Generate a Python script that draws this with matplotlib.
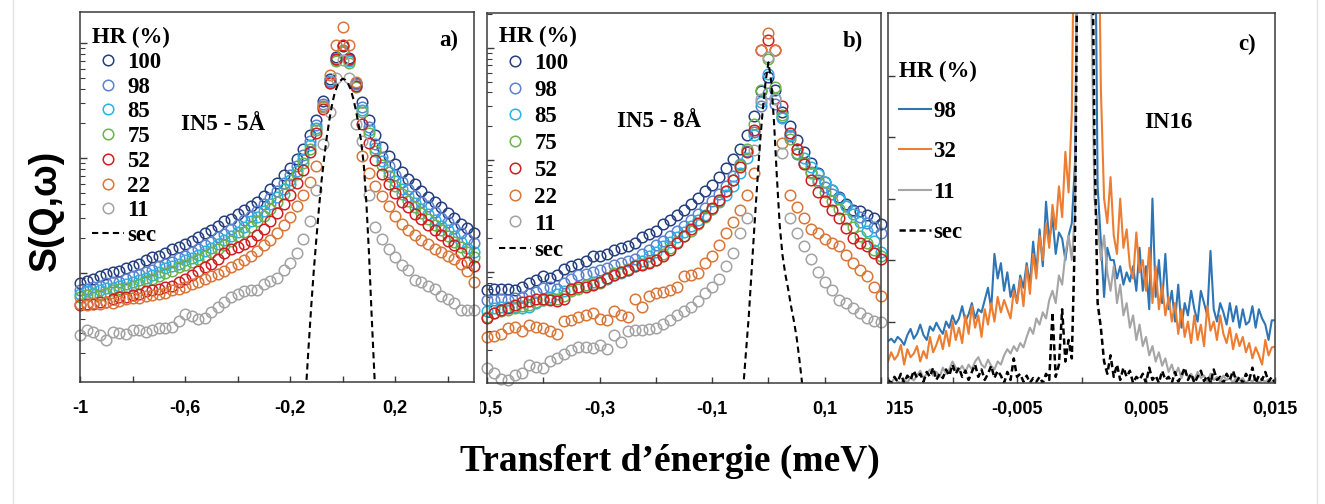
import matplotlib.pyplot as plt
import numpy as np
from matplotlib.ticker import FixedLocator, FixedFormatter, LogLocator, NullFormatter
from matplotlib.patches import Rectangle
from matplotlib.lines import Line2D

# ---------------------------------------------------------------
# data (panels a and b are log10 of S(Q,w), panel c is linear)
# ---------------------------------------------------------------
hr_ab = ['100', '98', '85', '75', '52', '22', '11']
hr_c = ['98', '32', '11']

# panel a : IN5 - 5 A, energy from -1 to 0.5 meV (61 channels)
e_a = np.linspace(-1.0, 0.5, 61)
log_a_100 = [-0.09, -0.07, -0.05, -0.03, -0.01, 0.01, 0.02, 0.04, 0.06, 0.08,
             0.11, 0.14, 0.15, 0.17, 0.21, 0.23, 0.25, 0.28, 0.31, 0.35,
             0.37, 0.41, 0.45, 0.47, 0.51, 0.55, 0.58, 0.62, 0.67, 0.73,
             0.78, 0.85, 0.91, 0.99, 1.08, 1.20, 1.33, 1.50, 1.69, 1.88,
             1.97, 1.87, 1.65, 1.49, 1.33, 1.20, 1.10, 1.02, 0.95, 0.88,
             0.82, 0.77, 0.71, 0.66, 0.62, 0.57, 0.52, 0.48, 0.43, 0.39,
             0.35]
log_a_98 = [-0.15, -0.14, -0.12, -0.11, -0.09, -0.08, -0.08, -0.05, -0.03, -0.01,
            0.01, 0.03, 0.06, 0.08, 0.10, 0.13, 0.15, 0.18, 0.21, 0.24,
            0.27, 0.31, 0.34, 0.38, 0.42, 0.46, 0.50, 0.54, 0.60, 0.65,
            0.71, 0.78, 0.85, 0.93, 1.03, 1.15, 1.29, 1.47, 1.67, 1.86,
            1.94, 1.85, 1.64, 1.44, 1.27, 1.12, 1.01, 0.93, 0.85, 0.79,
            0.73, 0.67, 0.62, 0.58, 0.53, 0.48, 0.44, 0.39, 0.35, 0.30,
            0.26]
log_a_85 = [-0.18, -0.16, -0.17, -0.15, -0.13, -0.13, -0.11, -0.10, -0.08, -0.06,
            -0.04, -0.02, 0.01, 0.04, 0.06, 0.08, 0.11, 0.13, 0.16, 0.19,
            0.22, 0.25, 0.29, 0.32, 0.36, 0.40, 0.45, 0.49, 0.54, 0.60,
            0.66, 0.73, 0.81, 0.89, 0.99, 1.11, 1.26, 1.45, 1.66, 1.85,
            1.92, 1.84, 1.63, 1.42, 1.24, 1.09, 0.97, 0.88, 0.80, 0.73,
            0.67, 0.61, 0.56, 0.51, 0.46, 0.41, 0.37, 0.32, 0.27, 0.22,
            0.18]
log_a_75 = [-0.21, -0.19, -0.18, -0.19, -0.17, -0.15, -0.14, -0.13, -0.11, -0.10,
            -0.07, -0.05, -0.03, 0.00, 0.02, 0.05, 0.07, 0.10, 0.12, 0.15,
            0.18, 0.21, 0.24, 0.28, 0.32, 0.36, 0.40, 0.45, 0.50, 0.56,
            0.62, 0.69, 0.77, 0.86, 0.96, 1.08, 1.24, 1.44, 1.65, 1.84,
            1.93, 1.83, 1.62, 1.40, 1.22, 1.06, 0.94, 0.84, 0.76, 0.69,
            0.63, 0.57, 0.52, 0.47, 0.42, 0.37, 0.32, 0.27, 0.23, 0.18,
            0.14]
log_a_52 = [-0.28, -0.27, -0.27, -0.25, -0.25, -0.23, -0.21, -0.21, -0.19, -0.18,
            -0.16, -0.15, -0.14, -0.12, -0.11, -0.08, -0.05, -0.02, 0.02, 0.05,
            0.08, 0.12, 0.17, 0.21, 0.23, 0.25, 0.28, 0.33, 0.38, 0.45,
            0.52, 0.60, 0.68, 0.78, 0.90, 1.05, 1.22, 1.43, 1.65, 1.86,
            1.98, 1.86, 1.63, 1.30, 1.13, 0.98, 0.86, 0.77, 0.70, 0.62,
            0.57, 0.51, 0.47, 0.42, 0.37, 0.33, 0.28, 0.24, 0.17, 0.10,
            0.06]
log_a_22 = [-0.27, -0.28, -0.26, -0.27, -0.25, -0.26, -0.24, -0.23, -0.22, -0.22,
            -0.20, -0.19, -0.18, -0.17, -0.15, -0.14, -0.12, -0.10, -0.08, -0.05,
            -0.03, -0.01, 0.02, 0.05, 0.08, 0.11, 0.15, 0.19, 0.24, 0.29,
            0.35, 0.42, 0.49, 0.58, 0.68, 0.79, 0.93, 1.45, 1.72, 1.98,
            2.14, 1.98, 1.66, 1.02, 0.87, 0.76, 0.67, 0.58, 0.50, 0.43,
            0.37, 0.33, 0.29, 0.25, 0.21, 0.18, 0.15, 0.12, 0.08, 0.02,
            -0.08]
log_a_11 = [-0.54, -0.50, -0.51, -0.54, -0.58, -0.51, -0.52, -0.53, -0.50, -0.50,
            -0.51, -0.50, -0.48, -0.48, -0.47, -0.42, -0.36, -0.37, -0.40, -0.39,
            -0.34, -0.30, -0.25, -0.21, -0.18, -0.16, -0.15, -0.15, -0.10, -0.07,
            -0.04, 0.03, 0.09, 0.17, 0.30, 0.45, 0.72, 1.12, 1.40, 1.70,
            1.85, 1.70, 1.30, 1.15, 0.68, 0.40, 0.30, 0.21, 0.14, 0.07,
            0.03, -0.06, -0.08, -0.11, -0.14, -0.20, -0.23, -0.26, -0.32, -0.32,
            -0.32]
e_sec_a = np.linspace(-0.14, 0.13, 28)
log_a_sec = [-1.02, -0.65, -0.30, 0.02, 0.30, 0.57, 0.81, 1.01, 1.19, 1.34,
             1.47, 1.57, 1.63, 1.67, 1.69, 1.68, 1.65, 1.60, 1.52, 1.42,
             1.30, 1.15, 0.95, 0.62, 0.18, -0.35, -0.85, -1.30]

# panel b : IN5 - 8 A, energy from -0.5 to 0.2 meV (57 channels)
e_b = np.linspace(-0.5, 0.2, 57)
log_b_100 = [-0.16, -0.15, -0.15, -0.15, -0.16, -0.13, -0.10, -0.07, -0.04, -0.05,
             -0.03, 0.03, 0.05, 0.07, 0.10, 0.14, 0.14, 0.16, 0.20, 0.21,
             0.23, 0.26, 0.31, 0.34, 0.37, 0.43, 0.46, 0.51, 0.55, 0.61,
             0.66, 0.72, 0.78, 0.85, 0.93, 1.01, 1.10, 1.22, 1.39, 1.61,
             1.74, 1.62, 1.43, 1.30, 1.18, 1.07, 0.97, 0.88, 0.80, 0.73,
             0.67, 0.61, 0.55, 0.54, 0.51, 0.48, 0.43]
log_b_98 = [-0.25, -0.25, -0.24, -0.25, -0.23, -0.22, -0.20, -0.18, -0.14, -0.13,
            -0.15, -0.10, -0.06, -0.03, -0.02, 0.00, 0.02, 0.04, 0.06, 0.08,
            0.10, 0.12, 0.16, 0.20, 0.24, 0.28, 0.32, 0.37, 0.41, 0.46,
            0.52, 0.57, 0.63, 0.70, 0.77, 0.86, 0.96, 1.08, 1.25, 1.48,
            1.60, 1.50, 1.38, 1.21, 1.05, 0.97, 0.89, 0.82, 0.76, 0.70,
            0.65, 0.59, 0.54, 0.49, 0.44, 0.40, 0.35]
log_b_85 = [-0.35, -0.32, -0.31, -0.31, -0.31, -0.32, -0.31, -0.28, -0.25, -0.22,
            -0.20, -0.17, -0.15, -0.13, -0.12, -0.09, -0.09, -0.06, -0.03, -0.01,
            0.02, 0.06, 0.10, 0.14, 0.18, 0.23, 0.27, 0.31, 0.36, 0.41,
            0.46, 0.51, 0.56, 0.62, 0.69, 0.77, 0.88, 1.02, 1.22, 1.52,
            1.77, 1.55, 1.37, 1.22, 1.10, 1.02, 0.94, 0.87, 0.80, 0.73,
            0.66, 0.59, 0.52, 0.45, 0.37, 0.28, 0.18]
log_b_75 = [-0.40, -0.37, -0.35, -0.34, -0.32, -0.30, -0.29, -0.27, -0.25, -0.24,
            -0.24, -0.21, -0.17, -0.15, -0.12, -0.11, -0.10, -0.05, -0.01, 0.00,
            0.03, 0.05, 0.07, 0.09, 0.11, 0.16, 0.21, 0.27, 0.32, 0.37,
            0.43, 0.49, 0.56, 0.63, 0.72, 0.82, 0.95, 1.10, 1.32, 1.62,
            1.90, 1.65, 1.40, 1.19, 1.06, 0.97, 0.88, 0.80, 0.71, 0.63,
            0.56, 0.47, 0.40, 0.32, 0.26, 0.20, 0.14]
log_b_52 = [-0.41, -0.37, -0.34, -0.32, -0.29, -0.27, -0.26, -0.24, -0.24, -0.25,
            -0.26, -0.24, -0.15, -0.13, -0.13, -0.12, -0.09, -0.05, -0.03, 0.00,
            0.02, 0.05, 0.06, 0.08, 0.11, 0.14, 0.20, 0.26, 0.32, 0.38,
            0.44, 0.50, 0.57, 0.64, 0.72, 0.82, 0.94, 1.07, 1.27, 1.98,
            2.07, 1.98, 1.48, 1.24, 1.10, 0.96, 0.82, 0.71, 0.63, 0.55,
            0.48, 0.39, 0.30, 0.26, 0.23, 0.17, 0.12]
log_b_22 = [-0.58, -0.57, -0.55, -0.50, -0.49, -0.53, -0.47, -0.49, -0.50, -0.53,
            -0.55, -0.44, -0.43, -0.40, -0.38, -0.37, -0.42, -0.43, -0.35, -0.38,
            -0.40, -0.24, -0.31, -0.21, -0.19, -0.18, -0.16, -0.13, -0.04, -0.03,
            -0.01, 0.08, 0.14, 0.24, 0.35, 0.45, 0.55, 0.69, 0.88, 1.98,
            2.13, 1.98, 1.15, 0.69, 0.58, 0.48, 0.38, 0.35, 0.29, 0.26,
            0.23, 0.15, 0.08, 0.02, -0.04, -0.13, -0.21]
log_b_11 = [-0.86, -0.90, -0.95, -0.96, -0.92, -0.90, -0.83, -0.85, -0.86, -0.79,
            -0.77, -0.73, -0.70, -0.67, -0.67, -0.68, -0.65, -0.69, -0.56, -0.62,
            -0.53, -0.52, -0.52, -0.51, -0.50, -0.46, -0.43, -0.38, -0.35, -0.31,
            -0.26, -0.19, -0.13, -0.06, 0.05, 0.17, 0.35, 0.48, 1.09, 1.54,
            1.92, 1.54, 1.06, 0.48, 0.35, 0.23, 0.12, 0.00, -0.09, -0.16,
            -0.25, -0.28, -0.32, -0.37, -0.41, -0.44, -0.45]
e_sec_b = np.linspace(-0.045, 0.06, 22)
log_b_sec = [-1.05, -0.72, -0.40, 0.00, 0.40, 0.78, 1.15, 1.45, 1.70, 1.87,
             1.70, 1.33, 0.85, 0.42, 0.15, -0.02, -0.15, -0.30, -0.43, -0.58,
             -0.78, -1.00]

# panel c : IN16, energy from -0.015 to 0.015 meV (121 channels)
e_c = np.linspace(-0.015, 0.015, 121)
c_98 = [0.68, 0.72, 0.66, 0.75, 0.70, 0.62, 0.78, 0.88, 0.72, 0.80,
        0.95, 0.78, 0.70, 0.92, 0.85, 0.98, 0.88, 0.80, 1.00, 0.90,
        1.10, 0.96, 1.05, 1.25, 1.00, 1.12, 1.30, 1.05, 1.20, 1.15,
        1.35, 1.55, 1.20, 2.10, 1.70, 1.95, 1.50, 1.80, 1.40, 1.60,
        1.30, 1.75, 1.55, 1.95, 1.60, 2.30, 1.80, 2.50, 1.90, 2.95,
        2.30, 2.70, 2.10, 2.45, 2.35, 2.00, 2.40, 2.60, 3.60, 9.0,
        9.0, 9.0, 9.0, 9.0, 9.0, 3.20, 2.30, 1.40, 2.20, 2.00,
        2.00, 1.70, 1.90, 1.60, 1.80, 1.65, 1.90, 1.50, 2.20, 1.50,
        1.90, 1.20, 3.00, 1.40, 2.00, 1.30, 2.10, 1.20, 1.50, 1.00,
        1.60, 0.90, 1.30, 1.10, 1.50, 1.20, 1.00, 1.50, 1.30, 1.10,
        2.15, 1.20, 1.00, 1.30, 1.15, 0.95, 1.30, 1.00, 1.25, 0.90,
        1.20, 0.95, 1.00, 1.25, 0.90, 1.20, 1.05, 0.95, 0.70, 1.02,
        1.02]
c_32 = [0.35, 0.50, 0.38, 0.45, 0.62, 0.30, 0.55, 0.42, 0.48, 0.60,
        0.35, 0.52, 0.40, 0.75, 0.50, 0.62, 0.78, 0.55, 0.85, 0.60,
        1.00, 0.70, 0.90, 0.65, 1.10, 0.80, 1.25, 0.90, 1.10, 0.75,
        1.20, 0.95, 1.30, 1.00, 1.40, 1.15, 1.35, 1.20, 1.05, 1.50,
        1.30, 1.70, 1.25, 1.90, 1.45, 2.10, 1.70, 2.40, 2.00, 2.60,
        2.20, 2.90, 2.50, 3.20, 2.70, 3.76, 3.10, 4.40, 9.0, 9.0,
        9.0, 9.0, 9.0, 9.0, 9.0, 9.0, 4.80, 3.00, 2.60, 3.35,
        2.40, 2.10, 3.00, 2.20, 2.50, 1.90, 1.70, 2.45, 1.80, 2.00,
        1.50, 2.20, 1.30, 1.90, 1.20, 1.60, 1.10, 1.40, 1.00, 1.30,
        0.80, 1.20, 0.75, 1.00, 0.65, 1.10, 0.70, 0.95, 0.60, 1.25,
        0.85, 1.00, 0.70, 1.10, 0.80, 0.65, 0.90, 0.55, 0.80, 0.60,
        0.75, 0.50, 0.65, 0.40, 0.58, 0.45, 0.30, 0.70, 0.45, 0.58,
        0.59]
c_11 = [0.05, 0.00, 0.08, 0.02, 0.00, 0.06, 0.00, 0.10, 0.04, 0.12,
        0.20, 0.08, 0.15, 0.22, 0.12, 0.18, 0.10, 0.25, 0.15, 0.22,
        0.35, 0.25, 0.20, 0.28, 0.18, 0.30, 0.22, 0.35, 0.42, 0.30,
        0.25, 0.38, 0.28, 0.22, 0.35, 0.30, 0.45, 0.55, 0.48, 0.60,
        0.52, 0.65, 0.58, 0.75, 0.90, 0.80, 1.05, 0.95, 1.15, 1.05,
        1.35, 1.50, 1.30, 1.75, 1.60, 2.10, 2.40, 2.00, 2.80, 9.0,
        9.0, 9.0, 9.0, 6.5, 3.00, 2.60, 2.00, 2.40, 1.80, 1.50,
        1.90, 1.30, 1.60, 1.10, 1.30, 0.90, 1.10, 0.70, 0.95, 0.60,
        0.75, 0.45, 0.60, 0.35, 0.50, 0.28, 0.40, 0.18, 0.30, 0.12,
        0.25, 0.08, 0.20, 0.10, 0.15, 0.05, 0.18, 0.08, 0.12, 0.02,
        0.15, 0.05, 0.10, 0.02, 0.12, 0.05, 0.08, 0.00, 0.10, 0.04,
        0.08, 0.00, 0.06, 0.02, 0.08, 0.00, 0.05, 0.02, 0.06, 0.01,
        0.03]
c_sec = [0.05, 0.00, 0.10, 0.02, 0.15, 0.00, 0.12, 0.05, 0.20, 0.08,
         0.15, 0.02, 0.18, 0.10, 0.25, 0.05, 0.15, 0.08, 0.22, 0.12,
         0.30, 0.15, 0.25, 0.10, 0.20, 0.05, 0.18, 0.30, 0.10, 0.22,
         0.05, 0.15, 0.28, 0.08, 0.20, 0.12, 0.00, 0.18, 0.05, 0.40,
         0.10, 0.15, 0.02, 0.12, 0.00, 0.08, 0.02, 0.10, 0.00, 0.15,
         0.05, 1.15, 0.10, 0.30, 1.20, 0.35, 0.70, 0.40, 2.50, 9.0,
         9.0, 9.0, 9.0, 9.0, 4.00, 1.30, 0.90, 0.35, 0.15, 0.45,
         0.10, 0.30, 0.05, 0.25, 0.10, 0.20, 0.00, 0.10, 0.05, 0.15,
         0.00, 0.25, 0.05, 0.12, 0.00, 0.20, 0.05, 0.10, 0.00, 0.18,
         0.02, 0.12, 0.25, 0.05, 0.15, 0.00, 0.10, 0.20, 0.03, 0.12,
         0.00, 0.22, 0.05, 0.10, 0.00, 0.15, 0.05, 0.20, 0.02, 0.10,
         0.00, 0.15, 0.05, 0.25, 0.00, 0.12, 0.05, 0.18, 0.02, 0.10,
         0.00]

# tick labels (french decimal comma)
ticks_a = [-1.0, -0.6, -0.2, 0.2]
labels_a = ['-1', '-0,6', '-0,2', '0,2']
ticks_b = [-0.5, -0.3, -0.1, 0.1]
labels_b = ['-0,5', '-0,3', '-0,1', '0,1']
ticks_c = [-0.015, -0.005, 0.005, 0.015]
labels_c = ['-0,015', '-0,005', '0,005', '0,015']

# ---------------------------------------------------------------
# styles
# ---------------------------------------------------------------
colors_ab = ['#26407f', '#5d82cf', '#27b3e3', '#6db24f', '#d01f22', '#d9773a', '#a3a3a3']
colors_c = ['#2e75b6', '#ed7d31', '#a5a5a5']
serif_bold = dict(family='Liberation Serif', weight='bold')
tick_font = dict(family='Liberation Sans', weight='bold', size=13)
spine_col = '#3a3a3a'

fig = plt.figure(figsize=(13.25, 5.04), dpi=100)
W, H = 1325.0, 504.0


def px_axes(x0, y0, x1, y1):
    # axes from pixel box (top-left origin)
    return fig.add_axes([x0 / W, 1 - y1 / H, (x1 - x0) / W, (y1 - y0) / H])


def style_axes(ax, ticks, labels, minor):
    for s in ax.spines.values():
        s.set_color(spine_col)
        s.set_linewidth(1.1)
    ax.xaxis.set_major_locator(FixedLocator(ticks))
    ax.xaxis.set_major_formatter(FixedFormatter(labels))
    ax.xaxis.set_minor_locator(FixedLocator(minor))
    ax.tick_params(axis='x', which='both', direction='in', length=4, width=1,
                   color=spine_col, top=False, pad=13)
    for t in ax.get_xticklabels():
        t.set_fontfamily(tick_font['family'])
        t.set_fontweight(tick_font['weight'])
        t.set_fontsize(tick_font['size'])


ax_a = px_axes(80, 12, 474, 382)
ax_b = px_axes(487, 13, 881, 383)
ax_c = px_axes(888, 13, 1275, 383)

# --- panels a and b : hollow circles on log scale
panel_ab = [
    (ax_a, e_a, [log_a_100, log_a_98, log_a_85, log_a_75, log_a_52, log_a_22, log_a_11],
     e_sec_a, log_a_sec, (-1.0, 0.5), (-0.948, 2.27)),
    (ax_b, e_b, [log_b_100, log_b_98, log_b_85, log_b_75, log_b_52, log_b_22, log_b_11],
     e_sec_b, log_b_sec, (-0.5, 0.2), (-0.99, 2.31)),
]
for ax, e, series, e_sec, sec, xlim, ylim in panel_ab:
    for lab, col, vals in zip(hr_ab, colors_ab, series):
        ax.plot(e, 10 ** np.array(vals), ls='none', marker='o', ms=7.6,
                mfc='none', mec=col, mew=1.1, clip_on=False, label=lab)
    ax.plot(e_sec, 10 ** np.array(sec), color='black', lw=1.5,
            ls=(0, (3, 2)), label='sec')
    ax.set_yscale('log')
    ax.set_xlim(*xlim)
    ax.set_ylim(10 ** ylim[0], 10 ** ylim[1])
    ax.yaxis.set_major_locator(LogLocator(base=10, numticks=10))
    ax.yaxis.set_minor_locator(LogLocator(base=10, subs=np.arange(2, 10), numticks=30))
    ax.yaxis.set_major_formatter(NullFormatter())
    ax.yaxis.set_minor_formatter(NullFormatter())
    ax.tick_params(axis='y', which='major', direction='in', length=5, width=1,
                   color=spine_col, right=False)
    ax.tick_params(axis='y', which='minor', direction='in', length=3.5, width=0.8,
                   color=spine_col, right=False)

style_axes(ax_a, ticks_a, labels_a, [-0.8, -0.4, 0.0, 0.4])
style_axes(ax_b, ticks_b, labels_b, [-0.4, -0.2, 0.0, 0.2])

leg_kw = dict(frameon=False, loc='upper left', borderpad=0, borderaxespad=0,
              handlelength=1.4, handletextpad=0.15, alignment='left',
              prop=dict(serif_bold, size=16.5),
              title='HR (%)', title_fontproperties=dict(serif_bold, size=16.5))
ax_a.legend(bbox_to_anchor=(0.030, 0.959), labelspacing=0.16, **leg_kw)
ax_b.legend(bbox_to_anchor=(0.030, 0.965), labelspacing=0.25, **leg_kw)

ax_a.text(0.363, 0.697, 'IN5 - 5Å', transform=ax_a.transAxes, ha='center',
          va='center', size=16.5, **serif_bold)
ax_a.text(0.937, 0.924, 'a)', transform=ax_a.transAxes, ha='center',
          va='center', size=16.5, **serif_bold)
ax_b.text(0.437, 0.708, 'IN5 - 8Å', transform=ax_b.transAxes, ha='center',
          va='center', size=16.5, **serif_bold)
ax_b.text(0.929, 0.922, 'b)', transform=ax_b.transAxes, ha='center',
          va='center', size=16.5, **serif_bold)

# --- panel c : lines on linear scale
for lab, col, vals in zip(hr_c, colors_c, [c_98, c_32, c_11]):
    ax_c.plot(e_c, vals, color=col, lw=1.5, label=lab)
ax_c.plot(e_c, c_sec, color='black', lw=1.8, ls=(0, (2.5, 1.5)), label='sec')
ax_c.set_xlim(-0.015, 0.015)
ax_c.set_ylim(0, 6.02)
ax_c.yaxis.set_major_locator(FixedLocator([1, 2, 3, 4, 5]))
ax_c.yaxis.set_major_formatter(NullFormatter())
ax_c.tick_params(axis='y', direction='in', length=5, width=1, color=spine_col, right=False)
style_axes(ax_c, ticks_c, labels_c, [-0.01, 0.0, 0.01])

leg_c = dict(leg_kw, handletextpad=0.1)
ax_c.legend(bbox_to_anchor=(0.028, 0.871), labelspacing=0.84, **leg_c)
ax_c.text(0.724, 0.705, 'IN16', transform=ax_c.transAxes, ha='center',
          va='center', size=16.5, **serif_bold)
ax_c.text(0.928, 0.916, 'c)', transform=ax_c.transAxes, ha='center',
          va='center', size=16.5, **serif_bold)

# --- common axis titles
fig.text(46 / W, 1 - 210 / H, 'S(Q,ω)', rotation=90, ha='center', va='center',
         family='Liberation Sans', weight='bold', size=27)
fig.text(670 / W, 1 - 461 / H, 'Transfert d\u2019énergie (meV)', ha='center',
         va='center', size=27, **serif_bold)

# panels were cropped side by side: left part of first tick label is hidden
for x0, x1 in [(462, 480.5), (850, 886.5)]:
    fig.add_artist(Rectangle((x0 / W, 1 - 428 / H), (x1 - x0) / W, 38 / H,
                             transform=fig.transFigure, facecolor='white',
                             edgecolor='none', zorder=10))

# faint frame of the original picture
for xf in [13, 1317]:
    fig.add_artist(Line2D([xf / W, xf / W], [0, 1], transform=fig.transFigure,
                          color='#e2e2e2', lw=1))

fig.savefig('out.png', dpi=100)
